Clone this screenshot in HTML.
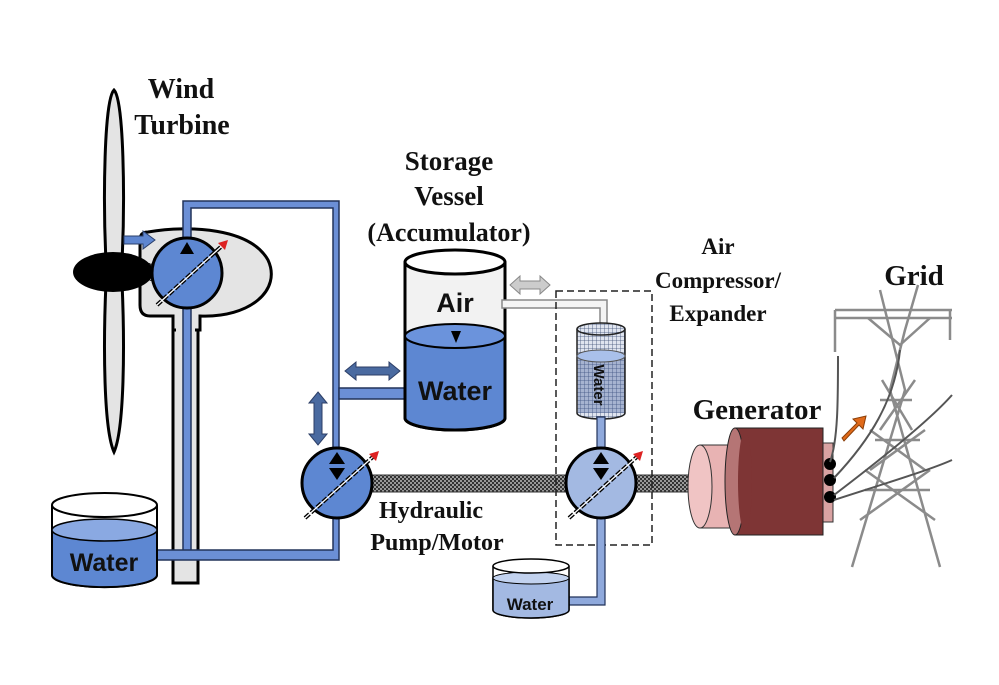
<!DOCTYPE html>
<html><head><meta charset="utf-8"><style>
html,body{margin:0;padding:0;background:#fff;}
svg{display:block;}
.lbl{font-family:"Liberation Serif",serif;font-weight:bold;fill:#111;}
.sans{font-family:"Liberation Sans",sans-serif;font-weight:bold;fill:#111;}
</style></head><body>
<svg width="999" height="685" viewBox="0 0 999 685" xmlns="http://www.w3.org/2000/svg">
<defs>
<pattern id="hatch" width="4" height="4" patternUnits="userSpaceOnUse">
<rect width="4" height="4" fill="#333"/><rect width="2" height="2" fill="#999"/><rect x="2" y="2" width="2" height="2" fill="#999"/>
</pattern>
<pattern id="grid" width="4" height="4" patternUnits="userSpaceOnUse">
<rect width="4" height="4" fill="#dfe4ef"/><path d="M0 0H4M0 0V4" stroke="#3d4f75" stroke-width="0.8"/>
</pattern>
</defs>

<!-- blades -->
<path d="M114 90 C104 100 103 200 106 262 L122 262 C125 200 124 100 114 90Z" fill="#e4e4e4" stroke="#000" stroke-width="3"/>
<path d="M106 282 C103 350 104 430 114 452 C124 430 125 350 122 282Z" fill="#e4e4e4" stroke="#000" stroke-width="3"/>

<!-- tower + nacelle -->
<rect x="173" y="300" width="25" height="283" fill="#e4e4e4" stroke="#000" stroke-width="3"/>
<path d="M148 232 C190 225 250 228 268 260 C282 290 250 318 200 316 L200 330 L173 330 L173 316 L150 316 Q140 316 140 305 L140 240 Q140 232 148 232Z" fill="#e4e4e4" stroke="#000" stroke-width="3"/>
<rect x="176" y="316" width="19" height="18" fill="#e4e4e4"/>

<!-- hub -->
<rect x="140" y="263" width="20" height="18" fill="url(#hatch)"/>
<ellipse cx="113" cy="272" rx="40" ry="20" fill="#000"/>

<!-- blue pipes -->
<g fill="#6b8fd6" stroke="#22335a" stroke-width="1.5">
<path d="M183 240 V201 H339 V450 H333 V208 H191 V240Z"/>
<rect x="183" y="305" width="8" height="248"/>
<rect x="339" y="388" width="68" height="11"/>
<path d="M155 550 H333 V518 H339 V560 H155Z"/>
</g>

<!-- blue arrow into nacelle -->
<path d="M124 236 H143 V231 L155 240 L143 249 V244 H124Z" fill="#5e86d0" stroke="#2a3f6a" stroke-width="1"/>

<!-- pump 1 -->
<circle cx="187" cy="273" r="35" fill="#5d87d2" stroke="#000" stroke-width="3"/>
<path d="M187 242 L180 254 H194Z" fill="#000"/>
<line x1="157" y1="305" x2="224" y2="244" stroke="#000" stroke-width="4" stroke-dasharray="6 2"/>
<line x1="157" y1="305" x2="224" y2="244" stroke="#fff" stroke-width="1.3"/>
<path d="M228 240 L218 243 L225 250Z" fill="#d22"/>

<!-- double arrows -->
<path d="M345 371 L356 362 V367 H389 V362 L400 371 L389 380 V375 H356 V380Z" fill="#4a6aa0" stroke="#2c3e66" stroke-width="1"/>
<path d="M318 392 L327 403 H322 V434 H327 L318 445 L309 434 H314 V403 H309Z" fill="#4a6aa0" stroke="#2c3e66" stroke-width="1"/>
<path d="M510 285 L520 276 V281 H540 V276 L550 285 L540 294 V289 H520 V294Z" fill="#ccc" stroke="#888" stroke-width="1"/>

<!-- shaft -->
<rect x="370" y="475" width="320" height="17" fill="url(#hatch)" stroke="#333" stroke-width="1"/>

<!-- accumulator -->
<path d="M405 262 V418 A50 12 0 0 0 505 418 V262" fill="#f2f2f2" stroke="#000" stroke-width="3"/>
<path d="M405 336 V418 A50 12 0 0 0 505 418 V336Z" fill="#5d87d2" stroke="#000" stroke-width="3"/>
<ellipse cx="455" cy="336" rx="50" ry="12" fill="#6b93dc" stroke="#000" stroke-width="2"/>
<ellipse cx="455" cy="262" rx="50" ry="12" fill="#fff" stroke="#000" stroke-width="3"/>
<path d="M451 331 H461 L456 343Z" fill="#000"/>
<text x="455" y="312" class="sans" font-size="27" text-anchor="middle">Air</text>
<text x="455" y="400" class="sans" font-size="27" text-anchor="middle">Water</text>

<!-- air pipe -->
<path d="M502 300 H607 V330 H600 V308 H502Z" fill="#f4f4f4" stroke="#888" stroke-width="1.5"/>

<!-- dashed box -->
<rect x="556" y="291" width="96" height="254" fill="none" stroke="#222" stroke-width="1.5" stroke-dasharray="7 4"/>

<!-- small cylinder -->
<path d="M577 329 V413 A24 6 0 0 0 625 413 V329" fill="url(#grid)" stroke="#222" stroke-width="1.5"/>
<rect x="578" y="356" width="46" height="57" fill="#3b5a99" opacity="0.35"/>
<ellipse cx="601" cy="356" rx="24" ry="6" fill="#a9c0ea" stroke="#555" stroke-width="1"/>
<ellipse cx="601" cy="329" rx="24" ry="6" fill="url(#grid)" stroke="#222" stroke-width="1.5"/>
<text transform="translate(594,385) rotate(90)" class="sans" font-size="15" text-anchor="middle" fill="#222">Water</text>

<!-- pipes near pump2 -->
<rect x="597" y="417" width="8" height="34" fill="#8fa9dc" stroke="#22335a" stroke-width="1.2"/>
<path d="M597 515 V597 H568 V605 H605 V515Z" fill="#8fa9dc" stroke="#22335a" stroke-width="1.2"/>

<!-- pump 2 (hydraulic) -->
<circle cx="337" cy="483" r="35" fill="#5d87d2" stroke="#000" stroke-width="3"/>
<path d="M337 452 L329 464 H345Z" fill="#000"/>
<path d="M329 468 H345 L337 480Z" fill="#000"/>
<line x1="305" y1="518" x2="375" y2="455" stroke="#000" stroke-width="4" stroke-dasharray="6 2"/>
<line x1="305" y1="518" x2="375" y2="455" stroke="#fff" stroke-width="1.3"/>
<path d="M379 451 L369 454 L376 461Z" fill="#d22"/>

<!-- pump 3 -->
<circle cx="601" cy="483" r="35" fill="#a3b9e2" stroke="#000" stroke-width="3"/>
<path d="M601 452 L593 464 H609Z" fill="#000"/>
<path d="M593 468 H609 L601 480Z" fill="#000"/>
<line x1="569" y1="518" x2="639" y2="455" stroke="#000" stroke-width="4" stroke-dasharray="6 2"/>
<line x1="569" y1="518" x2="639" y2="455" stroke="#fff" stroke-width="1.3"/>
<path d="M643 451 L633 454 L640 461Z" fill="#d22"/>

<!-- big tank -->
<path d="M52 505 V575 A52 12 0 0 0 157 575 V505" fill="#fff" stroke="#000" stroke-width="2"/>
<path d="M52 530 V575 A52 12 0 0 0 157 575 V530Z" fill="#5d87d2" stroke="#000" stroke-width="2"/>
<ellipse cx="104.5" cy="530" rx="52.5" ry="11" fill="#8aa9e2" stroke="#000" stroke-width="1.5"/>
<ellipse cx="104.5" cy="505" rx="52.5" ry="12" fill="#fff" stroke="#000" stroke-width="2"/>
<text x="104" y="571" class="sans" font-size="25" text-anchor="middle">Water</text>

<!-- small tank -->
<path d="M493 566 V610 A38 8 0 0 0 569 610 V566" fill="#fff" stroke="#000" stroke-width="1.5"/>
<path d="M493 578 V610 A38 8 0 0 0 569 610 V578Z" fill="#a3b9e2" stroke="#000" stroke-width="1.5"/>
<ellipse cx="531" cy="578" rx="38" ry="6" fill="#c2d2ef" stroke="#000" stroke-width="1"/>
<ellipse cx="531" cy="566" rx="38" ry="7" fill="#fff" stroke="#000" stroke-width="1.5"/>
<text x="530" y="610" class="sans" font-size="17" text-anchor="middle">Water</text>

<!-- generator -->
<rect x="700" y="445" width="40" height="83" fill="#e8b3b3" stroke="#333" stroke-width="1"/>
<ellipse cx="700" cy="486.5" rx="12" ry="41.5" fill="#f0c4c4" stroke="#333" stroke-width="1"/>
<rect x="823" y="443" width="10" height="79" fill="#d9a2a2" stroke="#333" stroke-width="1"/>
<rect x="735" y="428" width="88" height="107" fill="#7e3535" stroke="#222" stroke-width="1"/>
<ellipse cx="735" cy="481.5" rx="10" ry="53.5" fill="#b57575" stroke="#222" stroke-width="1"/>
<ellipse cx="745" cy="481.5" rx="7" ry="50" fill="#7e3535"/>
<circle cx="830" cy="464" r="6" fill="#000"/>
<circle cx="830" cy="480" r="6" fill="#000"/>
<circle cx="830" cy="497" r="6" fill="#000"/>

<!-- orange arrow -->
<path d="M842 438 L857 423 L853 419 L866 416 L863 429 L859 425 L844 441Z" fill="#e06a1a" stroke="#8a3e08" stroke-width="1"/>

<!-- tower -->
<g stroke="#777" stroke-width="2.5" fill="none" opacity="0.85">
<path d="M852 567 L905 390 L890 330 L880 290"/>
<path d="M940 567 L890 390 L905 330 L918 285"/>
<path d="M835 310 H952 M835 318 H952"/>
<path d="M868 318 L900 345 L930 318"/>
<path d="M860 520 L930 470 M935 520 L865 470 M870 470 L925 430 M925 470 L870 430 M880 430 L915 380 M912 430 L882 380"/>
<path d="M865 490 H930 M875 440 H920 M880 400 H912"/>
<path d="M835 310 V352 M950 310 V340"/>
</g>
<g stroke="#555" stroke-width="2" fill="none">
<path d="M830 462 C838 440 838 400 838 356"/>
<path d="M834 478 C870 440 895 400 900 350"/>
<path d="M834 495 C880 460 930 420 952 395"/>
<path d="M834 500 C880 485 930 470 952 460"/>
</g>

<!-- labels -->
<text x="181" y="98" class="lbl" font-size="28" text-anchor="middle">Wind</text>
<text x="182" y="134" class="lbl" font-size="28" text-anchor="middle">Turbine</text>
<text x="449" y="170" class="lbl" font-size="27" text-anchor="middle">Storage</text>
<text x="449" y="205" class="lbl" font-size="27" text-anchor="middle">Vessel</text>
<text x="449" y="241" class="lbl" font-size="26" text-anchor="middle">(Accumulator)</text>
<text x="718" y="254" class="lbl" font-size="23" text-anchor="middle">Air</text>
<text x="718" y="288" class="lbl" font-size="23" text-anchor="middle">Compressor/</text>
<text x="718" y="321" class="lbl" font-size="23" text-anchor="middle">Expander</text>
<text x="914" y="285" class="lbl" font-size="29" text-anchor="middle">Grid</text>
<text x="757" y="419" class="lbl" font-size="29" text-anchor="middle">Generator</text>
<text x="431" y="518" class="lbl" font-size="24" text-anchor="middle">Hydraulic</text>
<text x="437" y="550" class="lbl" font-size="24" text-anchor="middle">Pump/Motor</text>
</svg>
</body></html>
